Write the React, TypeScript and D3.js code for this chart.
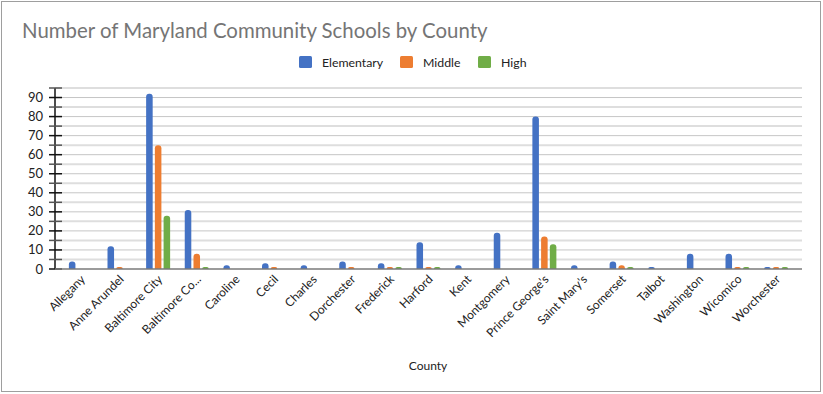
import React, { useEffect, useRef } from 'react'
import * as d3 from 'd3'

const counties = [
  'Allegany', 'Anne Arundel', 'Baltimore City', 'Baltimore Co...', 'Caroline', 'Cecil',
  'Charles', 'Dorchester', 'Frederick', 'Harford', 'Kent', 'Montgomery',
  "Prince George's", "Saint Mary's", 'Somerset', 'Talbot', 'Washington', 'Wicomico', 'Worchester',
]
const elementary = [4, 12, 92, 31, 2, 3, 2, 4, 3, 14, 2, 19, 80, 2, 4, 1, 8, 8, 1]
const middle = [0, 1, 65, 8, 0, 1, 0, 1, 1, 1, 0, 0, 17, 0, 2, 0, 0, 1, 1]
const high = [0, 0, 28, 1, 0, 0, 0, 0, 1, 1, 0, 0, 13, 0, 1, 0, 0, 1, 1]
const seriesNames = ['Elementary', 'Middle', 'High']
const seriesColors = ['#4472C4', '#ED7D31', '#70AD47']
const yTicks = [0, 10, 20, 30, 40, 50, 60, 70, 80, 90]

const W = 823, H = 394
const FONT = 'Lato, "Open Sans", sans-serif'

function drawChart(node: SVGSVGElement) {
  const svg = d3.select(node)
  svg.selectAll('*').remove()

  const values = [elementary, middle, high]
  const rows = counties.map((c, i) => ({ county: c, vals: values.map((v) => v[i]) }))

  const left = 55, right = 802, top = 88, bottom = 269

  const x = d3.scaleBand().domain(counties).range([left, right]).paddingInner(0).paddingOuter(0.17)
  const x1 = d3.scaleBand().domain(seriesNames).range([-12, 12]).paddingInner(0.25)
  const y = d3.scaleLinear().domain([0, 95]).range([bottom, top])

  // frame
  svg.append('rect')
    .attr('x', 1.5).attr('y', 1.5).attr('width', 819).attr('height', 390)
    .attr('fill', 'white').attr('stroke', '#9e9e9e').attr('stroke-width', 1)

  // title
  svg.append('text')
    .attr('x', 22).attr('y', 38)
    .attr('font-family', FONT).attr('font-size', 20.4)
    .attr('fill', '#757575')
    .text('Number of Maryland Community Schools by County')

  // legend
  const legendX = [299, 400, 478]
  const legend = svg.append('g')
  seriesNames.forEach((name, i) => {
    legend.append('rect')
      .attr('x', legendX[i]).attr('y', 56).attr('width', 13).attr('height', 12).attr('rx', 1.5)
      .attr('fill', seriesColors[i])
    legend.append('text')
      .attr('x', legendX[i] + 23).attr('y', 66.5)
      .attr('font-family', FONT).attr('font-size', 12.3).attr('fill', '#222')
      .text(name)
  })

  // gridlines every 5
  const gridVals = d3.range(5, 96, 5)
  svg.append('g').selectAll('line')
    .data(gridVals)
    .enter().append('line')
    .attr('x1', left).attr('x2', right)
    .attr('y1', (d) => y(d)).attr('y2', (d) => y(d))
    .attr('stroke', (d) => (d % 10 === 0 ? '#c6c6c6' : '#dedede'))
    .attr('stroke-width', (d) => (d % 10 === 0 ? 1 : 2))

  // y axis line and ticks
  svg.append('line')
    .attr('x1', left).attr('x2', left).attr('y1', top).attr('y2', bottom)
    .attr('stroke', '#111').attr('stroke-width', 1.5)
  svg.append('g').selectAll('line')
    .data(d3.range(0, 96, 5))
    .enter().append('line')
    .attr('x1', 49).attr('x2', 62)
    .attr('y1', (d) => y(d)).attr('y2', (d) => y(d))
    .attr('stroke', (d) => (d % 10 === 0 ? '#111' : '#555'))
    .attr('stroke-width', 1.5)

  svg.append('g').selectAll('text')
    .data(yTicks)
    .enter().append('text')
    .attr('x', 43).attr('y', (d) => y(d))
    .attr('dy', '0.35em')
    .attr('text-anchor', 'end')
    .attr('font-family', FONT).attr('font-size', 13).attr('fill', '#222')
    .text((d) => d)

  // bars with rounded tops
  const bw = x1.bandwidth()
  const r = 3
  const barPath = (x0: number, y0: number, w: number, h: number) => {
    const rr = Math.min(r, h, w / 2)
    return `M${x0},${y0 + h}V${y0 + rr}Q${x0},${y0} ${x0 + rr},${y0}H${x0 + w - rr}Q${x0 + w},${y0} ${x0 + w},${y0 + rr}V${y0 + h}Z`
  }
  const groups = svg.append('g').selectAll('g')
    .data(rows)
    .enter().append('g')
    .attr('transform', (d) => `translate(${x(d.county)! + x.bandwidth() / 2},0)`)
  groups.selectAll('path')
    .data((d) => d.vals.map((v, i) => ({ v, i })).filter((e) => e.v > 0))
    .enter().append('path')
    .attr('d', (e) => barPath(x1(seriesNames[e.i])!, y(e.v), bw, bottom - y(e.v)))
    .attr('fill', (e) => seriesColors[e.i])

  // baseline
  svg.append('line')
    .attr('x1', left).attr('x2', right).attr('y1', bottom).attr('y2', bottom)
    .attr('stroke', '#7a7a7a').attr('stroke-width', 1.5)

  // x labels
  svg.append('g').selectAll('text')
    .data(counties)
    .enter().append('text')
    .attr('transform', (d) => `translate(${x(d)! + x.bandwidth() / 2 + 5},${bottom + 11}) rotate(-45)`)
    .attr('text-anchor', 'end')
    .attr('font-family', FONT).attr('font-size', 12).attr('fill', '#222')
    .text((d) => d)

  svg.append('text')
    .attr('x', 428).attr('y', 370)
    .attr('text-anchor', 'middle')
    .attr('font-family', FONT).attr('font-size', 12).attr('fill', '#222')
    .text('County')
}

export default function App() {
  const ref = useRef<SVGSVGElement>(null)
  useEffect(() => {
    if (ref.current) drawChart(ref.current)
  }, [])
  return (
    <svg
      ref={ref}
      width={W}
      height={H}
      style={{ position: 'absolute', left: 0, top: 0, background: 'white' }}
    />
  )
}
